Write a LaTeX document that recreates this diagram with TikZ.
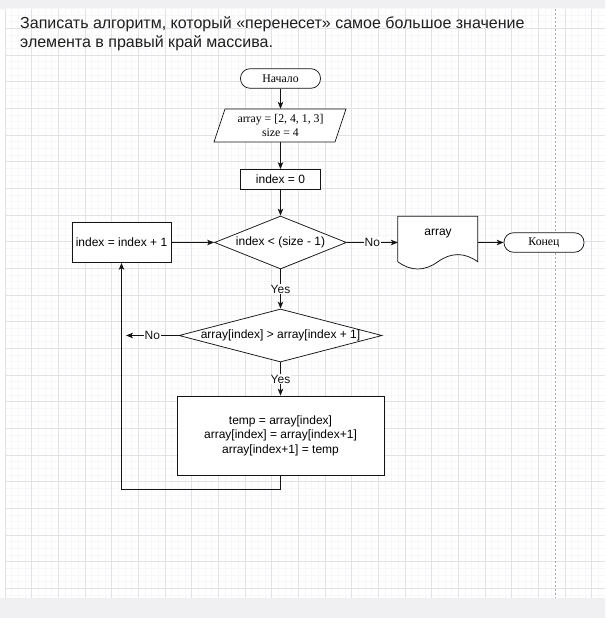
\documentclass[tikz,border=0pt]{standalone}
\usepackage{fontspec}
\setmainfont{Liberation Serif}
\setsansfont{Liberation Sans}
\usepackage{tikz}
\usetikzlibrary{arrows.meta,positioning,shapes.geometric,backgrounds}
\pgfdeclarelayer{grade}
\pgfsetlayers{grade,background,main}
\definecolor{Traco}{RGB}{20,20,20}
\definecolor{TextoTitulo}{RGB}{30,30,30}
\definecolor{Grade}{RGB}{226,226,230}
\definecolor{GradeFina}{RGB}{247,247,249}
\definecolor{FundoUI}{RGB}{240,240,243}
\tikzset{
  terminal/.style={draw=Traco, fill=white, rounded corners=9.5pt, line width=0.75pt,
                minimum width=80pt, minimum height=19.5pt, inner sep=0pt,
                font=\fontsize{11.8}{13}\selectfont},
  bloco/.style={draw=Traco, fill=white, line width=0.75pt, align=center, inner sep=0pt,
                font=\sffamily\fontsize{12}{14.5}\selectfont},
  decisao/.style={diamond, draw=Traco, fill=white, line width=0.75pt, inner sep=0pt,
                font=\sffamily\fontsize{12}{13}\selectfont},
  contorno/.style={draw=Traco, fill=white, line width=0.75pt},
  seta/.style={-{Stealth[length=7pt, width=5.5pt, inset=1.8pt]}, line width=0.75pt, Traco},
  rotulo/.style={fill=white, inner sep=1pt, font=\sffamily\fontsize{12}{13}\selectfont},
  titulo/.style={font=\sffamily\fontsize{16}{19}\selectfont, text=TextoTitulo, inner sep=0pt},
}

\begin{document}
\begin{tikzpicture}[x=1pt, y=-1pt]
  \useasboundingbox (0,0) rectangle (605,618);

  % Fundo com grade
  \begin{pgfonlayer}{grade}
    \fill[white] (0,0) rectangle (605,618);
    \fill[FundoUI] (0,0) rectangle (605,9);
    \fill[FundoUI] (0,598) rectangle (605,618);
    \begin{scope}
      \clip (5,9) rectangle (605,598);
      \foreach \i in {0,...,90}{
        \draw[GradeFina, line width=0.4pt] ({5+\i*6.6667},9) -- ({5+\i*6.6667},598);
        \draw[GradeFina, line width=0.4pt] (5,{1.6667+\i*6.6667}) -- (605,{1.6667+\i*6.6667});
      }
      \foreach \i in {0,...,23}{
        \draw[Grade, line width=0.5pt] ({5+\i*26.6667},9) -- ({5+\i*26.6667},598);
        \draw[Grade, line width=0.5pt] (5,{1.6667+\i*26.6667}) -- (605,{1.6667+\i*26.6667});
      }
    \end{scope}
    \draw[gray!70, line width=0.6pt, dash pattern=on 2pt off 2pt] (555,9) -- (555,598);
  \end{pgfonlayer}

  % Enunciado
  \node[titulo, anchor=base west] (tit1) at (20,28.3)
    {Записать алгоритм, который «перенесет» самое большое значение};
  \node[titulo, anchor=base west] (tit2) at (20,47.7)
    {элемента в правый край массива.};

  % Coluna principal
  \node[terminal] (inicio) at (280.5,78.5) {Начало};
  \node[align=center, inner sep=0pt, minimum width=119pt, minimum height=33pt,
        font=\fontsize{11.8}{14}\selectfont] (entrada) at (280.5,125.5)
    {array = [2, 4, 1, 3]\\size = 4};
  \node[bloco, minimum width=80pt, minimum height=20pt] (zera) at (280.5,179.5) {index = 0};
  \node[decisao, aspect=2.5, minimum width=132pt, minimum height=53pt] (teste) at (280.5,242.5)
    {index < (size - 1)};
  \node[decisao, aspect=3.9, minimum width=203pt, minimum height=53pt] (compara) at (280.5,335.5)
    {array[index] > array[index + 1]};
  \node[bloco, minimum width=207pt, minimum height=79pt] (troca) at (280.5,435.5)
    {temp = array[index]\\array[index] = array[index+1]\\array[index+1] = temp};

  % Laterais
  \node[bloco, minimum width=99pt, minimum height=40pt] (incr) at (121.5,242.5) {index = index + 1};
  \node[inner sep=0pt, minimum width=80pt, minimum height=52pt, text depth=20pt,
        font=\sffamily\fontsize{12}{13}\selectfont] (saida) at (438,242.5) {array};
  \node[terminal] (fim) at (544,242.5) {Конец};
  \coordinate (naoesq) at (126,335.5);

  % Contornos desenhados a mao
  \begin{scope}[on background layer]
    \draw[contorno, shift={(entrada.center)}]
      (-66.5,16.5) -- (-55.5,-16.5) -- (65.5,-16.5) -- (54.5,16.5) -- cycle;
    \draw[contorno, shift={(saida.north west)}]
      (0,0) -- (80,0) -- (80,45.5)
      .. controls (66.7,35.9) and (53.3,35.9) .. (40,45.5)
      .. controls (26.7,55.1) and (13.3,55.1) .. (0,45.5) -- cycle;
  \end{scope}

  % Conectores
  \draw[seta] (inicio) -- (entrada);
  \draw[seta] (entrada) -- (zera);
  \draw[seta] (zera) -- (teste);
  \draw[seta] (incr) -- (teste);
  \draw[seta] (teste) -- node[rotulo] {No} (saida);
  \draw[seta] (saida) -- (fim);
  \draw[seta] (teste) -- node[rotulo] {Yes} (compara);
  \draw[seta] (compara) -- node[rotulo] {No} (naoesq);
  \draw[seta] (compara) -- node[rotulo] {Yes} (troca);
  \draw[seta] (troca.south) -- ++(0,14) -| (incr.south);
\end{tikzpicture}
\end{document}
